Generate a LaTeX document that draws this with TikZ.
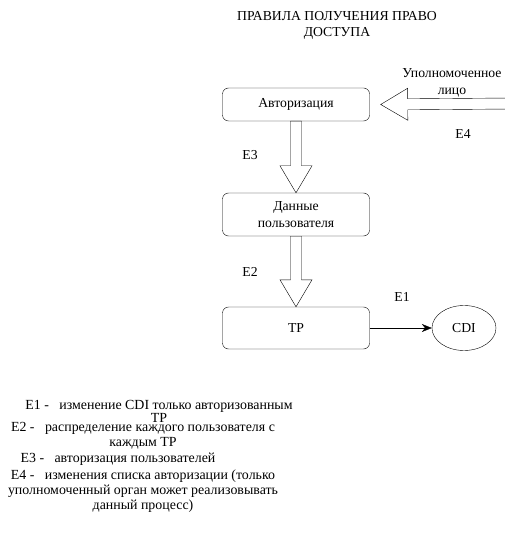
\documentclass[tikz,border=0pt]{standalone}
\usepackage{fontspec}
\setmainfont{Liberation Serif}[Script=Cyrillic]
\usetikzlibrary{shapes.geometric,calc,arrows.meta}

\begin{document}
\begin{tikzpicture}[x=1pt, y=-1pt,
  every node/.style={font=\rmfamily\fontsize{13.7}{16.5}\selectfont, inner sep=0pt, align=center},
  box/.style={draw, rounded corners=6pt, minimum width=147pt},
  note/.style={font=\rmfamily\fontsize{13.9}{15}\selectfont},
  fat/.style={draw, fill=white, to path={
    ($(\tikztotarget)!27pt!(\tikztostart)$) coordinate (fb)
    ($(\tikztostart)!5.5pt!90:(\tikztotarget)$) -- ($(fb)!5.5pt!90:(\tikztotarget)$)
    -- ($(fb)!16pt!90:(\tikztotarget)$) -- (\tikztotarget)
    -- ($(fb)!16pt!-90:(\tikztotarget)$) -- ($(fb)!5.5pt!-90:(\tikztotarget)$)
    -- ($(\tikztostart)!5.5pt!-90:(\tikztotarget)$) -- cycle}}
]
\useasboundingbox (0,0) rectangle (504,534);
\node (title) at (337,25.5) {ПРАВИЛА ПОЛУЧЕНИЯ ПРАВО\\ДОСТУПА};
\node[box, minimum height=33pt] (auth) at (296,104.5) {Авторизация};
\node[box, minimum height=43pt] (data) at (296,214.5) {Данные\\пользователя};
\node[box, minimum height=42pt] (tp) at (296,328) {TP};
\node[draw, ellipse, minimum width=64pt, minimum height=45pt] (cdi) at (464,328) {CDI};
\node (upl) at (452,83) {Уполномоченное\\лицо};
\coordinate (e4start) at (512,103.5);
\coordinate (e4end) at ([xshift=11pt]auth.east);

\draw[fat] (auth.south) to (data.north);
\draw[fat] (data.south) to (tp.north);
\draw[fat] (e4start) to (e4end);
\draw[-{Stealth[length=10pt,width=8pt]}] (tp) -- (cdi);

\node (l1) at (402,297) {E1};
\node (l2) at (250,272) {E2};
\node (l3) at (250,155) {E3};
\node (l4) at (463,134) {E4};

\node[note] (d1) at (159,411) {E1 -\ \ \ изменение CDI только авторизованным\\[-2pt]TP};
\node[note] (d2) at (143,436) {E2 -\ \ \ распределение каждого пользователя с\\каждым TP};
\node[note] (d3) at (118,459) {E3 -\ \ \ авторизация пользователей};
\node[note] (d4) at (143,491.5) {E4 -\ \ \ изменения списка авторизации (только\\уполномоченный орган может реализовывать\\данный процесс)};
\end{tikzpicture}
\end{document}
